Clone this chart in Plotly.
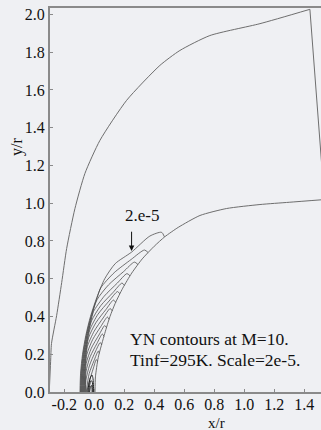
import plotly.graph_objects as go

# ---- tick labels -------------------------------------------------------
X_TICKS = [-0.2, 0.0, 0.2, 0.4, 0.6, 0.8, 1.0, 1.2, 1.4]
X_TICK_TEXT = ["-0.2", "0.0", "0.2", "0.4", "0.6", "0.8", "1.0", "1.2", "1.4"]
Y_TICKS = [0.0, 0.2, 0.4, 0.6, 0.8, 1.0, 1.2, 1.4, 1.6, 1.8, 2.0]
Y_TICK_TEXT = ["0.0", "0.2", "0.4", "0.6", "0.8", "1.0", "1.2", "1.4", "1.6", "1.8", "2.0"]

# ---- outer computational boundary --------------------------------------
OUTER_X = [-0.300, -0.291, -0.285, -0.251, -0.217, -0.184, -0.129, -0.062, 0.038,
           0.216, 0.438, 0.571, 0.771, 1.105, 1.438]
OUTER_Y = [0.000, 0.160, 0.257, 0.404, 0.580, 0.760, 0.971, 1.158, 1.333,
           1.545, 1.730, 1.809, 1.888, 1.951, 2.027]
OUTFLOW_X = [1.438, 1.530]
OUTFLOW_Y = [2.027, 1.064]

# ---- body surface ------------------------------------------------------
BODY_X = [0.005, 0.008, 0.027, 0.070, 0.105, 0.140, 0.190, 0.250, 0.320, 0.400,
          0.470, 0.560, 0.705, 0.883, 1.105, 1.300, 1.530]
BODY_Y = [0.000, 0.080, 0.184, 0.310, 0.400, 0.470, 0.550, 0.630, 0.705, 0.772,
          0.822, 0.872, 0.935, 0.972, 0.993, 1.005, 1.019]

# ---- YN iso-lines: shock-side arches ending on the wall ------------------
ARCH_X = [
    [-0.095, -0.091, -0.078, -0.056, -0.025, 0.017, 0.070, 0.140, 0.249, 0.371, 0.449, 0.468],
    [-0.0915, -0.0875, -0.0745, -0.0525, -0.0215, 0.0195, 0.0435, 0.133, 0.246, 0.335, 0.360],
    [-0.088, -0.084, -0.071, -0.049, -0.018, 0.018, 0.096, 0.196, 0.268, 0.292],
    [-0.0845, -0.0805, -0.0675, -0.0455, -0.0145, -0.0045, 0.066, 0.154, 0.218, 0.239],
    [-0.081, -0.077, -0.064, -0.042, -0.018, 0.043, 0.125, 0.185, 0.201],
    [-0.0775, -0.0735, -0.0605, -0.0385, -0.0285, 0.025, 0.099, 0.155, 0.171],
    [-0.074, -0.070, -0.057, -0.038, 0.011, 0.078, 0.128, 0.143],
    [-0.0705, -0.0665, -0.0535, -0.0455, -0.0006, 0.059, 0.106, 0.120],
    [-0.067, -0.063, -0.050, -0.011, 0.044, 0.088, 0.099],
    [-0.0635, -0.0595, -0.0535, -0.0194, 0.0314, 0.070, 0.082],
    [-0.060, -0.055, -0.027, 0.018, 0.054, 0.065],
    [-0.0565, -0.0555, -0.031, 0.0066, 0.040, 0.050],
    [-0.053, -0.034, -0.001, 0.027, 0.034],
    [-0.0495, -0.035, -0.0074, 0.014, 0.023],
]
ARCH_Y = [
    [0.0, 0.1, 0.2, 0.3, 0.4, 0.5, 0.6, 0.68, 0.741, 0.826, 0.846, 0.822],
    [0.0, 0.1, 0.2, 0.3, 0.4, 0.5, 0.552, 0.632, 0.702, 0.752, 0.738],
    [0.0, 0.1, 0.2, 0.3, 0.4, 0.488, 0.568, 0.638, 0.688, 0.675],
    [0.0, 0.1, 0.2, 0.3, 0.4, 0.427, 0.507, 0.577, 0.627, 0.615],
    [0.0, 0.1, 0.2, 0.3, 0.377, 0.457, 0.527, 0.577, 0.565],
    [0.0, 0.1, 0.2, 0.3, 0.332, 0.412, 0.482, 0.532, 0.520],
    [0.0, 0.1, 0.2, 0.287, 0.367, 0.437, 0.487, 0.475],
    [0.0, 0.1, 0.2, 0.242, 0.322, 0.392, 0.442, 0.430],
    [0.0, 0.1, 0.197, 0.277, 0.347, 0.397, 0.385],
    [0.0, 0.1, 0.152, 0.232, 0.302, 0.352, 0.340],
    [0.0, 0.107, 0.187, 0.257, 0.307, 0.295],
    [0.0, 0.062, 0.142, 0.212, 0.262, 0.250],
    [0.0, 0.097, 0.167, 0.217, 0.205],
    [0.0, 0.052, 0.122, 0.172, 0.160],
]

# ---- YN iso-lines: closed loops around the stagnation-line peak ----------
LOOP_X = [
    [-0.043, -0.036, -0.026, -0.015, -0.008, -0.005, -0.004],
    [-0.037, -0.031, -0.022, -0.014, -0.010, -0.009],
    [-0.031, -0.026, -0.019, -0.015, -0.014],
]
LOOP_Y = [
    [0.0, 0.040, 0.075, 0.090, 0.070, 0.030, 0.0],
    [0.0, 0.035, 0.060, 0.055, 0.025, 0.0],
    [0.0, 0.025, 0.035, 0.020, 0.0],
]

LABEL_LEVEL = "2.e-5"
NOTE_LINES = ["YN contours at M=10.", "Tinf=295K. Scale=2e-5."]

BG = "#eff0f3"
AXIS_GREY = "#8a8a8a"
FONT = "Times New Roman, Liberation Serif, serif"
INK = "#111111"

fig = go.Figure()

fig.add_trace(go.Scatter(x=OUTER_X, y=OUTER_Y, mode="lines",
                         line=dict(color="#6e6e6e", width=1, shape="spline", smoothing=0.6)))
fig.add_trace(go.Scatter(x=OUTFLOW_X, y=OUTFLOW_Y, mode="lines",
                         line=dict(color="#6e6e6e", width=1)))
fig.add_trace(go.Scatter(x=BODY_X, y=BODY_Y, mode="lines",
                         line=dict(color="#6e6e6e", width=1, shape="spline", smoothing=0.6)))

for xs, ys in zip(ARCH_X, ARCH_Y):
    fig.add_trace(go.Scatter(x=xs, y=ys, mode="lines",
                             line=dict(color="#454545", width=0.75, shape="spline", smoothing=0.7)))
for xs, ys in zip(LOOP_X, LOOP_Y):
    fig.add_trace(go.Scatter(x=xs, y=ys, mode="lines",
                             line=dict(color="#151515", width=0.9, shape="spline", smoothing=0.8)))

annotations = [
    dict(text="y/r", xref="paper", yref="paper", x=-0.122, y=0.638, showarrow=False,
         xanchor="center", yanchor="middle", textangle=-90,
         font=dict(family=FONT, size=16, color=INK)),
    dict(text="x/r", xref="paper", yref="paper", x=0.616, y=-0.081, showarrow=False,
         xanchor="center", yanchor="middle",
         font=dict(family=FONT, size=15, color=INK)),
    dict(text=LABEL_LEVEL, xref="x", yref="y", x=0.318, y=0.935, showarrow=False,
         xanchor="center", yanchor="middle",
         font=dict(family=FONT, size=17, color=INK)),
    dict(text="", xref="x", yref="y", x=0.249, y=0.747, axref="x", ayref="y",
         ax=0.249, ay=0.857, showarrow=True, arrowhead=2, arrowsize=1.1,
         arrowwidth=1, arrowcolor=INK),
    dict(text=NOTE_LINES[0], xref="x", yref="y", x=0.225, y=0.282, xanchor="left",
         yanchor="middle", showarrow=False, font=dict(family=FONT, size=17.5, color=INK)),
    dict(text=NOTE_LINES[1], xref="x", yref="y", x=0.225, y=0.167, xanchor="left",
         yanchor="middle", showarrow=False, font=dict(family=FONT, size=17.5, color=INK)),
]

fig.update_layout(
    width=321, height=430,
    margin=dict(l=50, r=0, t=8, b=38),
    paper_bgcolor=BG, plot_bgcolor=BG,
    showlegend=False, hovermode=False,
    font=dict(family=FONT, size=16, color=INK),
    annotations=annotations,
)
fig.update_xaxes(range=[-0.295, 1.512], tickvals=X_TICKS, ticktext=X_TICK_TEXT,
                 showgrid=False, zeroline=False, showline=True, mirror=True,
                 linecolor=AXIS_GREY, linewidth=1.5, ticks="inside", ticklen=3,
                 tickcolor=AXIS_GREY, ticklabelstandoff=-3,
                 tickfont=dict(family=FONT, size=16, color=INK))
fig.update_yaxes(range=[0, 2.034], tickvals=Y_TICKS, ticktext=Y_TICK_TEXT,
                 showgrid=False, zeroline=False, showline=True, mirror=False,
                 linecolor=AXIS_GREY, linewidth=2, ticks="inside", ticklen=3,
                 tickcolor=AXIS_GREY, ticklabelstandoff=0,
                 tickfont=dict(family=FONT, size=16, color=INK))

fig.write_html("out.html")
